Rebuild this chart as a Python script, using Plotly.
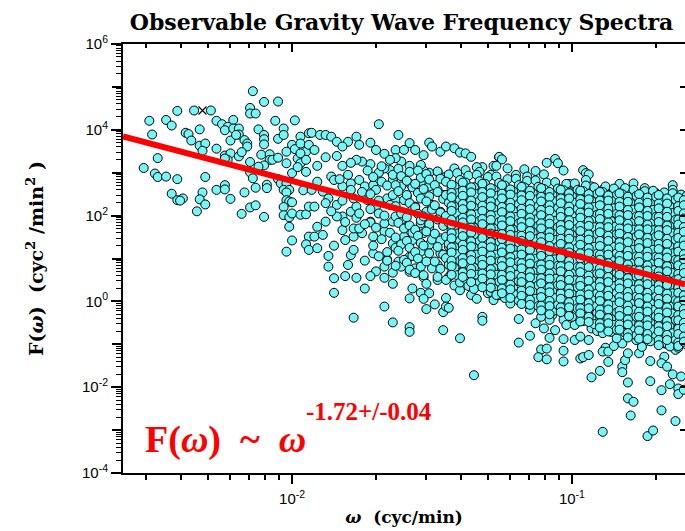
import math
import plotly.graph_objects as go

# Observable gravity wave frequency spectra: F(omega) vs omega, both log10.
# Points are (log10 omega [cyc/min], log10 F [cyc^2/min^2]).

low_freq_pts = [
    (-2.14, 4.90), (-2.10, 4.65), (-2.05, 4.66), (-2.41, 4.44), (-2.35, 4.45), (-2.29, 4.45),
    (-2.51, 4.21), (-2.45, 4.23), (-2.43, 4.10), (-2.27, 4.21), (-2.25, 4.13), (-2.21, 4.23),
    (-2.15, 4.51), (-2.15, 4.38), (-2.13, 4.38), (-2.06, 4.21), (-1.99, 4.22), (-2.50, 3.89),
    (-2.38, 3.93), (-2.37, 3.90), (-2.33, 4.01), (-2.36, 3.75), (-2.33, 3.63), (-2.31, 3.68),
    (-2.32, 3.51), (-2.27, 3.56), (-2.23, 4.07), (-2.24, 3.99), (-2.21, 4.03), (-2.19, 4.03),
    (-2.19, 3.89), (-2.17, 3.76), (-2.16, 3.68), (-2.16, 3.61), (-2.22, 3.75), (-2.20, 3.88),
    (-2.12, 4.01), (-2.10, 3.88), (-2.10, 3.78), (-2.10, 3.66), (-2.05, 3.79), (-2.03, 4.03),
    (-2.03, 3.88), (-1.97, 3.84), (-1.94, 3.92), (-2.00, 3.65), (-2.02, 3.49), (-1.99, 3.55),
    (-1.97, 3.68), (-1.95, 3.49), (-1.94, 3.65), (-2.48, 3.34), (-2.53, 3.11), (-2.49, 2.98),
    (-2.48, 2.90), (-2.45, 2.91), (-2.41, 2.85), (-2.31, 2.90), (-2.24, 3.40), (-2.22, 3.45),
    (-2.19, 3.38), (-2.23, 3.30), (-2.24, 3.33), (-2.18, 3.48), (-2.15, 3.25), (-2.11, 3.42),
    (-2.08, 3.43), (-2.08, 3.30), (-2.07, 3.30), (-2.05, 3.35), (-2.10, 3.17), (-2.12, 3.14),
    (-2.02, 3.22), (-2.00, 2.99), (-1.98, 3.33), (-1.97, 3.22), (-1.97, 3.45), (-1.95, 3.30),
    (-1.98, 3.13), (-1.95, 3.02), (-2.15, 3.01), (-2.14, 2.87), (-2.05, 2.85), (-2.04, 2.75),
    (-2.02, 2.75), (-2.03, 2.60), (-2.01, 2.60), (-1.96, 2.59), (-2.09, 2.72), (-2.09, 2.64),
    (-2.13, 2.65), (-2.17, 2.54), (-2.27, 2.60), (-2.24, 2.71), (-2.24, 2.61), (-2.22, 2.39),
    (-2.32, 2.54), (-2.33, 2.38), (-2.31, 2.26), (-2.34, 2.10), (-2.43, 2.51), (-2.41, 2.36),
    (-2.39, 2.40), (-2.40, 2.35), (-2.18, 2.04), (-2.15, 2.19), (-2.13, 2.24), (-2.10, 1.97),
    (-2.02, 2.54), (-2.02, 2.36), (-2.01, 2.33), (-2.00, 2.31), (-2.03, 2.20), (-2.03, 2.01),
    (-2.01, 1.96), (-2.00, 2.05), (-1.97, 2.02), (-1.95, 2.03), (-1.94, 2.21), (-2.01, 1.74),
    (-2.00, 1.42), (-2.02, 1.16), (-1.94, 1.51), (-1.95, 1.33), (-1.94, 1.20),
]

mid_upper_pts = [
    (-1.69, 4.13), (-1.62, 3.88), (-1.77, 3.84), (-1.80, 3.72), (-1.93, 3.93), (-1.90, 3.88),
    (-1.88, 3.88), (-1.86, 3.84), (-1.84, 3.72), (-1.82, 3.61), (-1.76, 3.65), (-1.72, 3.70),
    (-1.70, 3.53), (-1.67, 3.44), (-1.63, 3.53), (-1.60, 3.53), (-1.58, 3.69), (-1.56, 3.53),
    (-1.53, 3.41), (-1.51, 3.70), (-1.50, 3.61), (-1.47, 3.49), (-1.45, 3.61), (-1.42, 3.57),
    (-1.40, 3.47), (-1.38, 3.45), (-1.36, 3.37), (-1.26, 3.36), (-1.28, 3.16), (-1.32, 3.13),
    (-1.34, 3.13), (-1.33, 3.02), (-1.29, 2.95), (-1.38, 3.06), (-1.42, 3.10), (-1.45, 2.91),
    (-1.48, 3.02), (-1.51, 3.00), (-1.53, 3.05), (-1.54, 3.18), (-1.58, 3.16), (-1.61, 3.26),
    (-1.63, 3.34), (-1.65, 3.06), (-1.67, 3.10), (-1.69, 3.00), (-1.72, 3.20), (-1.75, 3.26),
    (-1.77, 3.30), (-1.79, 3.23), (-1.82, 3.16), (-1.84, 3.39), (-1.88, 3.36), (-1.91, 3.16),
    (-1.92, 3.53), (-1.86, 2.91), (-1.85, 2.83), (-1.82, 2.68), (-1.79, 2.75), (-1.76, 2.83),
    (-1.74, 2.68), (-1.71, 2.71), (-1.68, 2.79), (-1.64, 2.83), (-1.61, 2.68), (-1.58, 2.75),
    (-1.54, 2.79), (-1.51, 2.68), (-1.48, 2.60), (-1.46, 2.48), (-1.42, 2.40), (-1.39, 2.33),
    (-1.34, 2.25), (-1.30, 2.21), (-1.28, 2.05), (-1.91, 2.79), (-1.93, 2.60), (-1.89, 2.56),
    (-1.87, 2.40), (-1.84, 2.25), (-1.88, 2.29), (-1.92, 2.21), (-1.82, 1.98), (-1.79, 2.09),
    (-1.77, 2.21), (-1.73, 2.36), (-1.70, 2.21), (-1.66, 2.40), (-1.63, 2.36), (-1.59, 2.44),
    (-1.56, 2.21), (-1.52, 2.09), (-1.50, 2.25), (-1.47, 2.09), (-1.44, 1.98), (-1.40, 1.90),
    (-1.36, 1.78), (-1.33, 1.74), (-1.29, 1.86), (-1.26, 1.90), (-1.91, 1.74), (-1.88, 1.86),
    (-1.84, 1.98), (-1.92, 1.51), (-1.89, 1.55), (-1.82, 1.66), (-1.81, 1.43), (-1.78, 1.51),
    (-1.75, 1.59), (-1.71, 1.51), (-1.67, 1.63), (-1.64, 1.35), (-1.60, 1.51), (-1.57, 1.43),
    (-1.53, 1.59), (-1.51, 1.32), (-1.47, 1.47), (-1.44, 1.28), (-1.41, 1.35), (-1.38, 1.51),
    (-1.34, 1.35), (-1.30, 1.28), (-1.28, 1.43), (-1.91, 1.24), (-1.87, 1.06), (-1.79, 1.08),
    (-1.71, 1.12), (-1.66, 0.97), (-1.62, 0.93), (-1.58, 1.04), (-1.54, 1.16), (-1.51, 0.93),
    (-1.47, 1.12), (-1.44, 0.93), (-1.39, 1.04), (-1.35, 0.93), (-1.32, 1.08), (-1.28, 0.97),
    (-1.87, 0.81), (-1.80, 0.85), (-1.67, 0.81), (-1.61, 0.81), (-1.56, 0.77), (-1.48, 0.85),
    (-1.41, 0.81), (-1.34, 0.77), (-1.27, 0.81), (-1.78, 1.70), (-1.76, 1.70), (-1.72, 1.86),
    (-1.72, 1.84), (-1.69, 2.05), (-1.67, 1.82), (-1.64, 1.86), (-1.59, 1.74), (-1.54, 1.82),
    (-1.51, 1.74),
]

# points between the sparse left part and the dense core
blend_pts = [
    (-1.80, 2.95), (-1.78, 2.40), (-1.77, 1.95), (-1.75, 2.55), (-1.74, 1.80), (-1.73, 3.05),
    (-1.72, 2.15), (-1.71, 1.30), (-1.70, 2.60), (-1.70, 1.72), (-1.69, 2.35), (-1.68, 3.15),
    (-1.68, 1.45), (-1.67, 2.00), (-1.66, 2.70), (-1.66, 1.15), (-1.65, 2.25), (-1.65, 1.60),
    (-1.64, 2.95), (-1.64, 2.48), (-1.63, 1.98), (-1.63, 1.25), (-1.66, 0.95), (-1.69, 1.05),
    (-1.72, 2.50), (-1.76, 2.05), (-1.79, 2.60), (-1.82, 2.35), (-1.83, 2.85), (-1.81, 1.85),
    (-1.86, 2.10), (-1.85, 1.30), (-1.78, 1.20), (-1.74, 0.95), (-1.70, 0.70), (-1.67, 0.55),
    (-1.65, 3.30), (-1.71, 2.90),
]

mid_lower_pts = [
    (-1.85, 0.54), (-1.85, 0.20), (-1.81, 0.59), (-1.77, 0.55), (-1.74, 0.30), (-1.72, 0.59),
    (-1.78, -0.38), (-1.67, -0.12), (-1.64, -0.49), (-1.64, 0.41), (-1.64, 0.67), (-1.58, 0.69),
    (-1.58, 0.07), (-1.57, 0.30), (-1.58, -0.60), (-1.58, -0.71), (-1.54, 0.20), (-1.53, 0.56),
    (-1.52, 0.41), (-1.51, 0.19), (-1.53, 0.06), (-1.52, -0.18), (-1.49, -0.07), (-1.48, 0.50),
    (-1.46, -0.67), (-1.46, -0.25), (-1.45, 0.08), (-1.45, -0.12), (-1.44, -0.15), (-1.44, 0.57),
    (-1.42, 0.37), (-1.40, 0.26), (-1.40, -0.86), (-1.39, 0.56), (-1.39, 0.71), (-1.35, -1.72),
    (-1.36, 0.15), (-1.35, 0.42), (-1.34, 0.50), (-1.34, 0.06), (-1.33, 0.36), (-1.32, -0.36),
    (-1.32, -0.45), (-1.31, 0.59), (-1.30, 0.19), (-1.29, 0.50), (-1.28, 0.38), (-1.28, 0.19),
    (-1.28, 0.03), (-1.26, 0.15),
]

high_upper_pts = [
    (-1.26, 3.37), (-1.25, 3.31), (-1.27, 3.16), (-1.23, 3.10), (-1.20, 2.95), (-1.17, 3.08),
    (-1.16, 2.91), (-1.13, 3.04), (-1.10, 2.96), (-1.09, 3.23), (-1.06, 3.32), (-1.05, 3.22),
    (-1.03, 3.05), (-1.01, 2.74), (-0.99, 2.71), (-0.96, 3.06), (-0.95, 2.99), (-0.94, 2.96),
    (-0.95, 2.83), (-0.93, 2.68), (-0.89, 2.60), (-0.87, 2.48), (-0.83, 2.74), (-0.83, 2.52),
    (-0.79, 2.56), (-0.78, 2.75), (-0.75, 2.52), (-0.74, 2.64), (-0.70, 2.52), (-0.69, 2.44),
    (-0.64, 2.71), (-0.64, 2.60), (-0.61, 2.48), (-0.60, 2.36),
]

high_lower_pts = [
    (-1.25, 0.38), (-1.26, 0.15), (-1.22, -0.05), (-1.19, -0.41), (-1.15, -0.19), (-1.15, -0.80),
    (-1.19, -0.96), (-1.13, -0.51), (-1.11, -0.36), (-1.10, -0.63), (-1.07, -0.32), (-1.08, -0.43),
    (-1.06, -0.67), (-1.08, -0.85), (-1.11, -1.12), (-1.09, -1.10), (-1.12, -1.30), (-1.09, -1.35),
    (-1.03, -0.88), (-1.03, -1.15), (-1.03, -1.40), (-1.03, -0.43), (-1.02, -0.55), (-0.99, -0.55),
    (-0.99, -0.90), (-0.97, -0.82), (-0.94, -0.90), (-0.97, -1.33), (-0.96, -1.30), (-0.94, -1.25),
    (-0.93, -0.63), (-0.91, -0.69), (-0.92, -0.38), (-0.89, -0.74), (-0.86, -0.71), (-0.88, -1.08),
    (-0.89, -1.17), (-0.87, -1.17), (-0.85, -1.04), (-0.87, -1.41), (-0.93, -1.77), (-0.90, -1.62),
    (-0.82, -1.52), (-0.82, -1.65), (-0.81, -1.37), (-0.80, -1.89), (-0.80, -2.26), (-0.78, -2.34),
    (-0.79, -2.66), (-0.89, -3.04), (-0.73, -3.14), (-0.71, -3.01), (-0.72, -1.86), (-0.68, -2.07),
    (-0.68, -2.54), (-0.63, -2.79), (-0.65, -1.93), (-0.64, -1.70), (-0.62, -2.03), (-0.62, -2.16),
    (-0.60, -2.06), (-0.72, -1.39), (-0.67, -1.29), (-0.76, -1.21), (-0.80, -1.21), (-0.77, -0.90),
    (-0.74, -0.94), (-0.72, -0.86), (-0.67, -0.98), (-0.63, -1.13), (-0.68, -1.44), (-0.66, -1.52),
    (-0.61, -1.75), (-0.75, -1.06), (-0.82, -0.98), (-0.84, -0.86), (-0.79, -0.74),
]

core_pts = [
    (-1.62, 3.09), (-1.61, 2.92), (-1.63, 2.71), (-1.62, 2.57), (-1.60, 2.36), (-1.63, 2.22), (-1.61, 2.05),
    (-1.62, 1.83), (-1.60, 1.70), (-1.63, 1.49), (-1.61, 1.33), (-1.62, 1.18), (-1.60, 0.97), (-1.63, 0.83),
    (-1.58, 3.02), (-1.59, 2.81), (-1.57, 2.66), (-1.59, 2.48), (-1.58, 2.29), (-1.57, 2.13), (-1.59, 1.96),
    (-1.58, 1.77), (-1.57, 1.60), (-1.59, 1.41), (-1.58, 1.25), (-1.57, 1.06), (-1.59, 0.90), (-1.58, 0.74),
    (-1.55, 3.05), (-1.54, 2.88), (-1.56, 2.74), (-1.55, 2.53), (-1.54, 2.40), (-1.56, 2.19), (-1.55, 2.04),
    (-1.54, 1.89), (-1.56, 1.67), (-1.55, 1.53), (-1.54, 1.36), (-1.56, 1.15), (-1.55, 1.00), (-1.54, 0.81),
    (-1.56, 0.66),
    (-1.52, 2.97), (-1.51, 2.84), (-1.53, 2.62), (-1.51, 2.45), (-1.52, 2.33), (-1.50, 2.14), (-1.53, 1.98),
    (-1.51, 1.80), (-1.52, 1.63), (-1.50, 1.44), (-1.53, 1.30), (-1.51, 1.12), (-1.52, 0.93), (-1.50, 0.77),
    (-1.53, 0.61),
    (-1.48, 3.03), (-1.47, 2.86), (-1.49, 2.71), (-1.48, 2.55), (-1.46, 2.39), (-1.49, 2.24), (-1.47, 2.07),
    (-1.48, 1.91), (-1.46, 1.76), (-1.49, 1.58), (-1.47, 1.42), (-1.48, 1.27), (-1.46, 1.09), (-1.49, 0.93),
    (-1.47, 0.76), (-1.48, 0.57),
    (-1.44, 2.96), (-1.45, 2.79), (-1.43, 2.63), (-1.45, 2.48), (-1.44, 2.30), (-1.43, 2.16), (-1.45, 1.99),
    (-1.44, 1.83), (-1.43, 1.67), (-1.45, 1.51), (-1.44, 1.34), (-1.43, 1.19), (-1.45, 1.01), (-1.44, 0.85),
    (-1.43, 0.66), (-1.45, 0.50),
    (-1.41, 2.99), (-1.40, 2.83), (-1.42, 2.68), (-1.41, 2.52), (-1.40, 2.37), (-1.42, 2.21), (-1.41, 2.05),
    (-1.40, 1.90), (-1.42, 1.73), (-1.41, 1.58), (-1.40, 1.42), (-1.42, 1.26), (-1.41, 1.10), (-1.40, 0.95),
    (-1.42, 0.78), (-1.41, 0.61), (-1.40, 0.44),
    (-1.37, 2.93), (-1.38, 2.77), (-1.36, 2.60), (-1.38, 2.45), (-1.37, 2.29), (-1.36, 2.13), (-1.38, 1.97),
    (-1.37, 1.81), (-1.36, 1.66), (-1.38, 1.49), (-1.37, 1.33), (-1.36, 1.18), (-1.38, 1.02), (-1.37, 0.86),
    (-1.36, 0.69), (-1.38, 0.52), (-1.37, 0.36),
    (-1.34, 2.95), (-1.33, 2.80), (-1.35, 2.66), (-1.34, 2.50), (-1.33, 2.34), (-1.35, 2.19), (-1.34, 2.03),
    (-1.33, 1.88), (-1.35, 1.72), (-1.34, 1.56), (-1.33, 1.41), (-1.35, 1.25), (-1.34, 1.09), (-1.33, 0.94),
    (-1.35, 0.78), (-1.34, 0.62), (-1.33, 0.45), (-1.35, 0.29),
    (-1.30, 2.90), (-1.31, 2.74), (-1.29, 2.59), (-1.31, 2.43), (-1.30, 2.27), (-1.29, 2.12), (-1.31, 1.96),
    (-1.30, 1.80), (-1.29, 1.65), (-1.31, 1.49), (-1.30, 1.33), (-1.29, 1.17), (-1.31, 1.02), (-1.30, 0.86),
    (-1.29, 0.70), (-1.31, 0.54), (-1.30, 0.38), (-1.29, 0.22),
    (-1.27, 2.91), (-1.26, 2.76), (-1.28, 2.61), (-1.27, 2.46), (-1.26, 2.31), (-1.28, 2.16), (-1.27, 2.00),
    (-1.26, 1.85), (-1.28, 1.70), (-1.27, 1.55), (-1.26, 1.39), (-1.28, 1.24), (-1.27, 1.09), (-1.26, 0.93),
    (-1.28, 0.78), (-1.27, 0.62), (-1.26, 0.46), (-1.28, 0.30), (-1.27, 0.15),
    (-1.23, 2.85), (-1.24, 2.70), (-1.22, 2.55), (-1.24, 2.40), (-1.23, 2.24), (-1.22, 2.09), (-1.24, 1.93),
    (-1.23, 1.78), (-1.22, 1.63), (-1.24, 1.47), (-1.23, 1.32), (-1.22, 1.17), (-1.24, 1.01), (-1.23, 0.86),
    (-1.22, 0.70), (-1.24, 0.55), (-1.23, 0.39), (-1.22, 0.23), (-1.24, 0.08),
    (-1.20, 2.86), (-1.19, 2.71), (-1.21, 2.57), (-1.20, 2.42), (-1.19, 2.27), (-1.21, 2.12), (-1.20, 1.97),
    (-1.19, 1.82), (-1.21, 1.67), (-1.20, 1.52), (-1.19, 1.37), (-1.21, 1.22), (-1.20, 1.07), (-1.19, 0.92),
    (-1.21, 0.77), (-1.20, 0.62), (-1.19, 0.47), (-1.21, 0.31), (-1.20, 0.16), (-1.19, 0.02),
    (-1.16, 2.81), (-1.17, 2.66), (-1.15, 2.51), (-1.17, 2.36), (-1.16, 2.21), (-1.15, 2.06), (-1.17, 1.91),
    (-1.16, 1.76), (-1.15, 1.60), (-1.17, 1.45), (-1.16, 1.30), (-1.15, 1.15), (-1.17, 1.00), (-1.16, 0.84),
    (-1.15, 0.69), (-1.17, 0.54), (-1.16, 0.38), (-1.15, 0.23), (-1.17, 0.08), (-1.16, -0.06),
    (-1.13, 2.82), (-1.12, 2.67), (-1.14, 2.52), (-1.13, 2.37), (-1.12, 2.22), (-1.14, 2.06), (-1.13, 1.91),
    (-1.12, 1.76), (-1.14, 1.61), (-1.13, 1.45), (-1.12, 1.30), (-1.14, 1.15), (-1.13, 0.99), (-1.12, 0.84),
    (-1.14, 0.69), (-1.13, 0.53), (-1.12, 0.38), (-1.14, 0.22), (-1.13, 0.06), (-1.12, -0.11),
    (-1.09, 2.77), (-1.10, 2.62), (-1.08, 2.47), (-1.10, 2.32), (-1.09, 2.17), (-1.08, 2.01), (-1.10, 1.86),
    (-1.09, 1.71), (-1.08, 1.55), (-1.10, 1.40), (-1.09, 1.25), (-1.08, 1.09), (-1.10, 0.94), (-1.09, 0.78),
    (-1.08, 0.63), (-1.10, 0.47), (-1.09, 0.31), (-1.08, 0.16), (-1.10, 0.00), (-1.09, -0.17),
    (-1.06, 2.78), (-1.05, 2.63), (-1.07, 2.48), (-1.06, 2.33), (-1.05, 2.18), (-1.07, 2.03), (-1.06, 1.88),
    (-1.05, 1.73), (-1.07, 1.58), (-1.06, 1.43), (-1.05, 1.28), (-1.07, 1.13), (-1.06, 0.98), (-1.05, 0.83),
    (-1.07, 0.68), (-1.06, 0.53), (-1.05, 0.38), (-1.07, 0.23), (-1.06, 0.08), (-1.05, -0.08), (-1.07, -0.24),
    (-1.02, 2.74), (-1.03, 2.59), (-1.01, 2.44), (-1.03, 2.29), (-1.02, 2.14), (-1.01, 1.99), (-1.03, 1.84),
    (-1.02, 1.69), (-1.01, 1.54), (-1.03, 1.39), (-1.02, 1.24), (-1.01, 1.09), (-1.03, 0.94), (-1.02, 0.79),
    (-1.01, 0.64), (-1.03, 0.49), (-1.02, 0.34), (-1.01, 0.19), (-1.03, 0.03), (-1.02, -0.13), (-1.01, -0.30),
    (-0.99, 2.75), (-0.98, 2.60), (-1.00, 2.45), (-0.99, 2.30), (-0.98, 2.15), (-1.00, 2.00), (-0.99, 1.85),
    (-0.98, 1.70), (-1.00, 1.55), (-0.99, 1.40), (-0.98, 1.25), (-1.00, 1.10), (-0.99, 0.95), (-0.98, 0.80),
    (-1.00, 0.65), (-0.99, 0.49), (-0.98, 0.33), (-1.00, 0.17), (-0.99, 0.01), (-0.98, -0.16), (-1.00, -0.36),
    (-0.95, 2.70), (-0.96, 2.57), (-0.94, 2.39), (-0.96, 2.26), (-0.95, 2.08), (-0.94, 1.96), (-0.96, 1.79),
    (-0.95, 1.66), (-0.94, 1.48), (-0.96, 1.35), (-0.95, 1.19), (-0.94, 1.04), (-0.96, 0.87), (-0.95, 0.74),
    (-0.94, 0.56), (-0.96, 0.43), (-0.95, 0.26), (-0.94, 0.12), (-0.96, -0.05), (-0.95, -0.19), (-0.94, -0.33),
    (-0.96, -0.46),
    (-0.92, 2.66), (-0.91, 2.51), (-0.93, 2.34), (-0.92, 2.20), (-0.91, 2.02), (-0.93, 1.89), (-0.92, 1.73),
    (-0.91, 1.57), (-0.93, 1.42), (-0.92, 1.27), (-0.91, 1.11), (-0.93, 0.97), (-0.92, 0.81), (-0.91, 0.65),
    (-0.93, 0.50), (-0.92, 0.35), (-0.91, 0.19), (-0.93, 0.04), (-0.92, -0.12), (-0.91, -0.27), (-0.93, -0.41),
    (-0.92, -0.53),
    (-0.88, 2.68), (-0.89, 2.55), (-0.87, 2.41), (-0.89, 2.24), (-0.88, 2.10), (-0.87, 1.93), (-0.89, 1.80),
    (-0.88, 1.62), (-0.87, 1.49), (-0.89, 1.33), (-0.88, 1.18), (-0.87, 1.02), (-0.89, 0.88), (-0.88, 0.71),
    (-0.87, 0.57), (-0.89, 0.40), (-0.88, 0.26), (-0.87, 0.09), (-0.89, -0.06), (-0.88, -0.22), (-0.87, -0.38),
    (-0.89, -0.57),
    (-0.85, 2.63), (-0.84, 2.48), (-0.86, 2.35), (-0.85, 2.17), (-0.84, 2.04), (-0.86, 1.87), (-0.85, 1.74),
    (-0.84, 1.57), (-0.86, 1.43), (-0.85, 1.27), (-0.84, 1.12), (-0.86, 0.97), (-0.85, 0.82), (-0.84, 0.66),
    (-0.86, 0.51), (-0.85, 0.36), (-0.84, 0.20), (-0.86, 0.05), (-0.85, -0.10), (-0.84, -0.26), (-0.86, -0.41),
    (-0.85, -0.55), (-0.84, -0.66),
    (-0.81, 2.64), (-0.82, 2.50), (-0.80, 2.31), (-0.82, 2.19), (-0.81, 2.01), (-0.80, 1.88), (-0.82, 1.70),
    (-0.81, 1.55), (-0.80, 1.40), (-0.82, 1.24), (-0.81, 1.09), (-0.80, 0.93), (-0.82, 0.78), (-0.81, 0.62),
    (-0.80, 0.47), (-0.82, 0.31), (-0.81, 0.16), (-0.80, 0.00), (-0.82, -0.16), (-0.81, -0.31), (-0.80, -0.46),
    (-0.82, -0.60), (-0.81, -0.73),
    (-0.78, 2.60), (-0.77, 2.46), (-0.79, 2.29), (-0.78, 2.14), (-0.77, 1.98), (-0.79, 1.83), (-0.78, 1.67),
    (-0.77, 1.51), (-0.79, 1.36), (-0.78, 1.20), (-0.77, 1.05), (-0.79, 0.89), (-0.78, 0.73), (-0.77, 0.58),
    (-0.79, 0.42), (-0.78, 0.27), (-0.77, 0.11), (-0.79, -0.05), (-0.78, -0.20), (-0.77, -0.36), (-0.79, -0.51),
    (-0.78, -0.66), (-0.77, -0.79),
    (-0.74, 2.57), (-0.75, 2.42), (-0.73, 2.25), (-0.75, 2.11), (-0.74, 1.94), (-0.73, 1.79), (-0.75, 1.63),
    (-0.74, 1.47), (-0.73, 1.32), (-0.75, 1.16), (-0.74, 1.00), (-0.73, 0.85), (-0.75, 0.69), (-0.74, 0.54),
    (-0.73, 0.38), (-0.75, 0.22), (-0.74, 0.07), (-0.73, -0.09), (-0.75, -0.25), (-0.74, -0.40), (-0.73, -0.56),
    (-0.75, -0.71), (-0.74, -0.86),
    (-0.71, 2.58), (-0.70, 2.44), (-0.72, 2.28), (-0.71, 2.13), (-0.70, 1.97), (-0.72, 1.82), (-0.71, 1.66),
    (-0.70, 1.51), (-0.72, 1.35), (-0.71, 1.20), (-0.70, 1.04), (-0.72, 0.89), (-0.71, 0.73), (-0.70, 0.58),
    (-0.72, 0.42), (-0.71, 0.27), (-0.70, 0.11), (-0.72, -0.04), (-0.71, -0.20), (-0.70, -0.35), (-0.72, -0.50),
    (-0.71, -0.66), (-0.70, -0.81), (-0.72, -0.93),
    (-0.67, 2.54), (-0.68, 2.39), (-0.66, 2.23), (-0.68, 2.08), (-0.67, 1.92), (-0.66, 1.77), (-0.68, 1.61),
    (-0.67, 1.46), (-0.66, 1.30), (-0.68, 1.15), (-0.67, 0.99), (-0.66, 0.84), (-0.68, 0.68), (-0.67, 0.53),
    (-0.66, 0.37), (-0.68, 0.22), (-0.67, 0.06), (-0.66, -0.10), (-0.68, -0.25), (-0.67, -0.41), (-0.66, -0.56),
    (-0.68, -0.72), (-0.67, -0.86), (-0.66, -0.99),
    (-0.64, 2.52), (-0.63, 2.37), (-0.65, 2.21), (-0.64, 2.06), (-0.63, 1.90), (-0.65, 1.75), (-0.64, 1.59),
    (-0.63, 1.44), (-0.65, 1.28), (-0.64, 1.12), (-0.63, 0.97), (-0.65, 0.81), (-0.64, 0.66), (-0.63, 0.50),
    (-0.65, 0.35), (-0.64, 0.19), (-0.63, 0.03), (-0.65, -0.12), (-0.64, -0.28), (-0.63, -0.43), (-0.65, -0.59),
    (-0.64, -0.74), (-0.63, -0.90), (-0.65, -1.05),
    (-0.61, 2.49), (-0.60, 2.34), (-0.62, 2.18), (-0.61, 2.03), (-0.60, 1.87), (-0.62, 1.72), (-0.61, 1.56),
    (-0.60, 1.41), (-0.62, 1.25), (-0.61, 1.10), (-0.60, 0.94), (-0.62, 0.79), (-0.61, 0.63), (-0.60, 0.48),
    (-0.62, 0.32), (-0.61, 0.17), (-0.60, 0.01), (-0.62, -0.15), (-0.61, -0.30), (-0.60, -0.46), (-0.62, -0.61),
    (-0.61, -0.77), (-0.60, -0.92), (-0.62, -1.08),
    (-0.59, 2.46), (-0.58, 2.27), (-0.59, 2.10), (-0.58, 1.94), (-0.59, 1.79), (-0.58, 1.62), (-0.59, 1.47),
    (-0.58, 1.31), (-0.59, 1.16), (-0.58, 1.00), (-0.59, 0.85), (-0.58, 0.69), (-0.59, 0.54), (-0.58, 0.38),
    (-0.59, 0.23), (-0.58, 0.07), (-0.59, -0.08), (-0.58, -0.24), (-0.59, -0.39), (-0.58, -0.55), (-0.59, -0.70),
    (-0.58, -0.86), (-0.59, -1.01),
]

# densest part of the cloud: log10 omega of each strip and the log10 F values seen in it
fill_cols = [-1.43, -1.39, -1.36, -1.32, -1.29, -1.25, -1.22, -1.18, -1.15, -1.11, -1.08, -1.04, -1.01,
             -0.97, -0.94, -0.90, -0.87, -0.83, -0.80, -0.76, -0.73, -0.69, -0.66, -0.62, -0.60]
fill_F = [
    [2.72, 2.53, 2.43, 2.22, 2.11, 1.90, 1.78, 1.59, 1.47, 1.26, 1.14, 0.95, 0.82, 0.62],
    [2.77, 2.58, 2.46, 2.27, 2.15, 1.95, 1.84, 1.64, 1.52, 1.32, 1.20, 1.01, 0.89, 0.68, 0.57],
    [2.66, 2.54, 2.35, 2.23, 2.03, 1.91, 1.72, 1.60, 1.40, 1.28, 1.08, 0.96, 0.76, 0.64, 0.45],
    [2.74, 2.55, 2.43, 2.23, 2.11, 1.92, 1.80, 1.60, 1.48, 1.28, 1.16, 0.97, 0.85, 0.65, 0.53, 0.33],
    [2.64, 2.52, 2.33, 2.21, 2.01, 1.90, 1.70, 1.58, 1.38, 1.26, 1.07, 0.95, 0.75, 0.63, 0.43, 0.32],
    [2.71, 2.51, 2.40, 2.20, 2.08, 1.89, 1.77, 1.57, 1.45, 1.25, 1.14, 0.94, 0.82, 0.62, 0.50, 0.30, 0.19],
    [2.61, 2.49, 2.30, 2.18, 1.98, 1.87, 1.67, 1.55, 1.35, 1.23, 1.03, 0.91, 0.71, 0.59, 0.39, 0.28, 0.08],
    [2.67, 2.47, 2.36, 2.16, 2.04, 1.85, 1.73, 1.53, 1.41, 1.21, 1.09, 0.89, 0.77, 0.57, 0.45, 0.25, 0.13, -0.06],
    [2.58, 2.46, 2.27, 2.15, 1.95, 1.84, 1.64, 1.52, 1.32, 1.20, 1.00, 0.88, 0.68, 0.56, 0.36, 0.24, 0.04, -0.08],
    [2.64, 2.44, 2.33, 2.13, 2.01, 1.82, 1.70, 1.50, 1.38, 1.18, 1.06, 0.86, 0.74, 0.54, 0.42, 0.22, 0.10, -0.10, -0.21],
    [2.55, 2.43, 2.24, 2.12, 1.92, 1.81, 1.61, 1.49, 1.29, 1.17, 0.97, 0.85, 0.65, 0.53, 0.33, 0.21, 0.01, -0.11, -0.30],
    [2.60, 2.40, 2.29, 2.09, 1.97, 1.78, 1.66, 1.46, 1.34, 1.14, 1.02, 0.82, 0.70, 0.50, 0.38, 0.18, 0.06, -0.14, -0.25],
    [2.52, 2.40, 2.21, 2.09, 1.89, 1.78, 1.58, 1.46, 1.26, 1.14, 0.94, 0.82, 0.62, 0.50, 0.30, 0.18, -0.02, -0.14, -0.34],
    [2.58, 2.38, 2.27, 2.07, 1.95, 1.76, 1.64, 1.44, 1.32, 1.12, 1.00, 0.80, 0.68, 0.48, 0.36, 0.16, 0.04, -0.16, -0.28, -0.47],
    [2.50, 2.38, 2.19, 2.07, 1.87, 1.76, 1.56, 1.44, 1.24, 1.12, 0.92, 0.80, 0.60, 0.48, 0.28, 0.16, -0.04, -0.16, -0.36, -0.48],
    [2.55, 2.35, 2.24, 2.04, 1.92, 1.73, 1.61, 1.41, 1.29, 1.09, 0.97, 0.77, 0.65, 0.45, 0.33, 0.13, 0.01, -0.19, -0.31, -0.51, -0.61],
    [2.47, 2.35, 2.16, 2.04, 1.84, 1.73, 1.53, 1.41, 1.21, 1.09, 0.89, 0.77, 0.57, 0.45, 0.25, 0.13, -0.07, -0.19, -0.39, -0.51, -0.70],
    [2.52, 2.32, 2.21, 2.01, 1.89, 1.70, 1.58, 1.38, 1.26, 1.06, 0.94, 0.74, 0.62, 0.42, 0.30, 0.10, -0.02, -0.22, -0.34, -0.54, -0.66],
    [2.44, 2.32, 2.13, 2.01, 1.81, 1.70, 1.50, 1.38, 1.18, 1.06, 0.86, 0.74, 0.54, 0.42, 0.22, 0.10, -0.10, -0.22, -0.42, -0.54, -0.74, -0.84],
    [2.50, 2.30, 2.19, 1.99, 1.87, 1.68, 1.56, 1.36, 1.24, 1.04, 0.92, 0.72, 0.60, 0.40, 0.28, 0.08, -0.04, -0.24, -0.36, -0.56, -0.68, -0.87],
    [2.42, 2.30, 2.11, 1.99, 1.79, 1.68, 1.48, 1.36, 1.16, 1.04, 0.84, 0.72, 0.52, 0.40, 0.20, 0.08, -0.12, -0.24, -0.44, -0.56, -0.76, -0.88],
    [2.48, 2.28, 2.17, 1.97, 1.85, 1.66, 1.54, 1.34, 1.22, 1.02, 0.90, 0.70, 0.58, 0.38, 0.26, 0.06, -0.06, -0.26, -0.38, -0.58, -0.70, -0.90, -1.02],
    [2.40, 2.28, 2.09, 1.97, 1.77, 1.66, 1.46, 1.34, 1.14, 1.02, 0.82, 0.70, 0.50, 0.38, 0.18, 0.06, -0.14, -0.26, -0.46, -0.58, -0.78, -0.90],
    [2.42, 2.22, 2.11, 1.91, 1.79, 1.60, 1.48, 1.28, 1.16, 0.96, 0.84, 0.64, 0.52, 0.32, 0.20, 0.00, -0.12, -0.32, -0.44, -0.64, -0.76, -0.96, -1.04],
    [2.36, 2.24, 2.05, 1.93, 1.73, 1.62, 1.42, 1.30, 1.10, 0.98, 0.78, 0.66, 0.46, 0.34, 0.14, 0.02, -0.18, -0.30, -0.50, -0.62, -0.82, -0.94],
]

# the single point drawn as a cross
cross_pts = [(-2.32, 4.45)]

# power-law fit  F ~ omega^slope
fit_slope = -1.72
fit_log_amp = -0.63
fit_label = "-1.72+/-0.04"

# axis ranges (log10) and ticks
x_range = [-2.604, -0.596]
y_range = [-4, 6]
x_tick_exps = [-2, -1]
y_label_exps = [-4, -2, 0, 2, 4, 6]
y_plain_exps = [-3, -1, 1, 3, 5]

fill_pts = [(c, f) for c, col in zip(fill_cols, fill_F) for f in col]
all_pts = (low_freq_pts + mid_upper_pts + blend_pts + mid_lower_pts + high_upper_pts
           + high_lower_pts + core_pts + fill_pts)
omega = [10 ** p[0] for p in all_pts]
spec = [10 ** p[1] for p in all_pts]

fit_omega = [10 ** x_range[0], 10 ** x_range[1]]
fit_F = [10 ** fit_log_amp * w ** fit_slope for w in fit_omega]

x_major = [10.0 ** k for k in x_tick_exps]
x_text = [f"10<sup>{k}</sup>" for k in x_tick_exps]
x_minor = [m * 10.0 ** k for k in (-3, -2, -1) for m in range(2, 10)
           if x_range[0] < k + math.log10(m) < x_range[1]]
y_major = [10.0 ** k for k in y_label_exps]
y_text = [f"10<sup>{k}</sup>" for k in y_label_exps]
y_odd = [10.0 ** k for k in y_plain_exps]
y_all = sorted(y_major + y_odd)
y_minor = [m * 10.0 ** k for k in range(-4, 6) for m in range(2, 10)]

TICK_FONT = dict(family="Liberation Sans", size=15, color="black")
SERIF = "DejaVu Serif"

fig = go.Figure()

fig.add_trace(go.Scatter(
    x=omega, y=spec, mode="markers",
    marker=dict(size=9, color="rgb(118,247,247)", line=dict(color="black", width=1)),
    hoverinfo="skip",
))
fig.add_trace(go.Scatter(
    x=[10 ** p[0] for p in cross_pts], y=[10 ** p[1] for p in cross_pts], mode="markers",
    marker=dict(symbol="x-thin", size=8, line=dict(color="black", width=1.2)),
    hoverinfo="skip",
))
fig.add_trace(go.Scatter(
    x=fit_omega, y=fit_F, mode="lines",
    line=dict(color="red", width=6), hoverinfo="skip",
))
# empty traces so the extra tick-only axes get drawn
fig.add_trace(go.Scatter(x=[], y=[], xaxis="x2", yaxis="y2", hoverinfo="skip"))
fig.add_trace(go.Scatter(x=[], y=[], xaxis="x", yaxis="y3", hoverinfo="skip"))

fig.update_layout(
    template="none",
    width=685, height=531,
    margin=dict(l=123, r=0, t=44, b=58),
    plot_bgcolor="white", paper_bgcolor="white",
    showlegend=False,
    title=dict(
        text="<b>Observable Gravity Wave Frequency Spectra</b>",
        x=0.4956, xref="paper", xanchor="center",
        y=0.9586, yref="container", yanchor="middle",
        font=dict(family=SERIF, size=22, color="black"),
    ),
    xaxis=dict(
        type="log", range=x_range, showgrid=False, zeroline=False, automargin=False,
        showline=True, linecolor="black", linewidth=2,
        ticks="outside", ticklen=9, tickwidth=1.5, tickcolor="black",
        tickmode="array", tickvals=x_major, ticktext=x_text, tickfont=TICK_FONT,
        ticklabelstandoff=2,
        minor=dict(tickmode="array", tickvals=x_minor, ticks="outside", ticklen=5,
                   tickwidth=1.5, tickcolor="black", showgrid=False),
        title=dict(text="<b><i>ω</i>  (cyc/min)</b>", standoff=5,
                   font=dict(family=SERIF, size=17, color="black")),
    ),
    xaxis2=dict(
        type="log", range=x_range, overlaying="x", side="top", showgrid=False, zeroline=False,
        automargin=False, showline=True, linecolor="black", linewidth=2,
        ticks="inside", ticklen=8, tickwidth=1.5, tickcolor="black",
        tickmode="array", tickvals=x_major, showticklabels=False,
        minor=dict(tickmode="array", tickvals=x_minor, ticks="inside", ticklen=4,
                   tickwidth=1.5, tickcolor="black", showgrid=False),
    ),
    yaxis=dict(
        type="log", range=y_range, showgrid=False, zeroline=False, automargin=False,
        showline=True, linecolor="black", linewidth=2,
        ticks="outside", ticklen=10, tickwidth=1.5, tickcolor="black",
        tickmode="array", tickvals=y_major, ticktext=y_text, tickfont=TICK_FONT,
        minor=dict(tickmode="array", tickvals=y_minor, ticks="outside", ticklen=5,
                   tickwidth=1.2, tickcolor="black", showgrid=False),
        title=dict(text="<b>F(<i>ω</i>)  (cyc<sup>2</sup> /min<sup>2</sup> )</b>", standoff=33,
                   font=dict(family=SERIF, size=19, color="black")),
    ),
    yaxis2=dict(
        type="log", range=y_range, overlaying="y", side="right", showgrid=False, zeroline=False,
        automargin=False, showline=False, ticks="inside", ticklen=5, tickwidth=1.5, tickcolor="black",
        tickmode="array", tickvals=y_all, showticklabels=False,
    ),
    yaxis3=dict(
        type="log", range=y_range, overlaying="y", side="left", showgrid=False, zeroline=False,
        automargin=False, showline=False, ticks="outside", ticklen=10, tickwidth=1.5, tickcolor="black",
        tickmode="array", tickvals=y_odd, showticklabels=False,
    ),
    annotations=[
        dict(text="<b>F(<i>ω</i>) &nbsp;~ &nbsp;<i>ω</i></b>", xref="paper", yref="paper",
             x=0.0356, y=0.077, xanchor="left", yanchor="middle", showarrow=False,
             font=dict(family="Liberation Serif", size=38, color="red")),
        dict(text=f"<b>{fit_label}</b>", xref="paper", yref="paper",
             x=0.322, y=0.1445, xanchor="left", yanchor="middle", showarrow=False,
             font=dict(family="Liberation Serif", size=25, color="red")),
    ],
)

# the page body has a default 8px margin; drop it so the figure sits at the window origin
fig.write_html("out.html", config={"displayModeBar": False},
               post_script="document.body.style.margin = '0px';")
